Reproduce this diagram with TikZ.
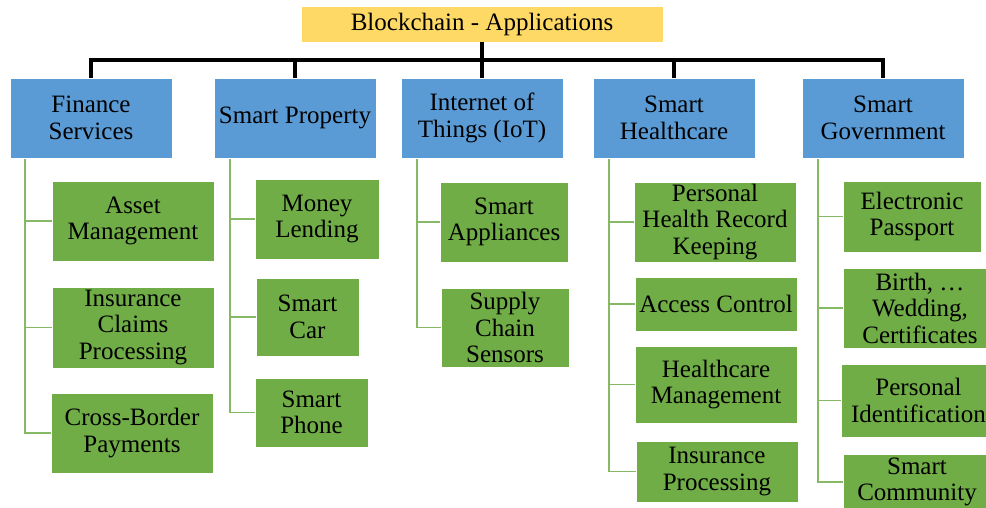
\documentclass[tikz,border=0pt]{standalone}
\usepackage{fontspec}
\setmainfont{Liberation Serif}
\definecolor{rootyellow}{HTML}{FFD966}
\definecolor{catblue}{HTML}{5B9BD5}
\definecolor{leafgreen}{HTML}{70AD47}
\begin{document}
\begin{tikzpicture}[x=1pt, y=-1pt, font=\fontsize{25}{26.5}\selectfont]
    \tikzstyle{root_style} = [rectangle, fill=rootyellow, draw=white, thin, inner sep=0pt, align=center]
    \tikzstyle{cat_style} = [rectangle, fill=catblue, draw=white, thin, inner sep=0pt, align=center, minimum width=162, minimum height=80]
    \tikzstyle{leaf_style} = [rectangle, fill=leafgreen, draw=white, thin, inner sep=0pt, align=center]
    \tikzstyle{tree_style} = [draw=black, line width=3.5pt]
    \tikzstyle{branch_style} = [draw=leafgreen!85!white, line width=1.6pt]
    \useasboundingbox (0,0) rectangle (986,508);

    \node[root_style, minimum width=362, minimum height=36] (root) at (482,24) {Blockchain - Applications};

    \node[cat_style] (fin) at (91,118) {Finance\\Services};
    \node[cat_style] (prop) at (295,118) {Smart Property};
    \node[cat_style] (iot) at (482,118) {Internet of\\Things (IoT)};
    \node[cat_style] (health) at (674,118) {Smart\\Healthcare};
    \node[cat_style] (gov) at (883,118) {Smart\\Government};

    \node[leaf_style, minimum width=162, minimum height=80] (asset) at (133,221) {Asset\\Management};
    \node[leaf_style, minimum width=162, minimum height=81] (claims) at (133,327.5) {Insurance\\Claims\\Processing};
    \node[leaf_style, minimum width=162, minimum height=80] (cross) at (132,433) {Cross-Border\\Payments};

    \node[leaf_style, minimum width=124, minimum height=80] (money) at (317,219) {Money\\Lending};
    \node[leaf_style, minimum width=103, minimum height=78] (car) at (307.5,317) {Smart\\Car};
    \node[leaf_style, minimum width=113, minimum height=69] (phone) at (311.5,412.5) {Smart\\Phone};

    \node[leaf_style, minimum width=128, minimum height=80] (appl) at (504,222) {Smart\\Appliances};
    \node[leaf_style, minimum width=128, minimum height=79] (supply) at (505,327.5) {Supply\\Chain\\Sensors};

    \node[leaf_style, minimum width=162, minimum height=80] (record) at (715,222) {Personal\\Health Record\\Keeping};
    \node[leaf_style, minimum width=162, minimum height=54] (access) at (716,304) {Access Control};
    \node[leaf_style, minimum width=162, minimum height=77] (hcm) at (716,384.5) {Healthcare\\Management};
    \node[leaf_style, minimum width=162, minimum height=61] (insproc) at (717,471.5) {Insurance\\Processing};

    \node[leaf_style, minimum width=138, minimum height=71] (passport) at (912,216.5) {Electronic\\Passport};
    \node[leaf_style, minimum width=154, minimum height=80] (birth) at (920,308) {Birth, \dots\\Wedding,\\Certificates};
    \node[leaf_style, minimum width=155, minimum height=73] (ident) at (918.5,400.5) {Personal\\Identification};
    \node[leaf_style, minimum width=148, minimum height=56] (community) at (917,482) {Smart\\Community};

    % main tree
    \draw[tree_style] (root.south) -- ++(0,18) -| (fin.north);
    \draw[tree_style] (root.south) -- ++(0,18) -| (prop.north);
    \draw[tree_style] (root.south) -- (iot.north);
    \draw[tree_style] (root.south) -- ++(0,18) -| (health.north);
    \draw[tree_style] (root.south) -- ++(0,18) -| (gov.north);

    % branches
    \draw[branch_style] (fin.south west) ++(15,1) |- (asset.west);
    \draw[branch_style] (fin.south west) ++(15,1) |- (claims.west);
    \draw[branch_style] (fin.south west) ++(15,1) |- (cross.west);

    \draw[branch_style] (prop.south west) ++(16,1) |- (money.west);
    \draw[branch_style] (prop.south west) ++(16,1) |- (car.west);
    \draw[branch_style] (prop.south west) ++(16,1) |- (phone.west);

    \draw[branch_style] (iot.south west) ++(16,1) |- (appl.west);
    \draw[branch_style] (iot.south west) ++(16,1) |- (supply.west);

    \draw[branch_style] (health.south west) ++(16,1) |- (record.west);
    \draw[branch_style] (health.south west) ++(16,1) |- (access.west);
    \draw[branch_style] (health.south west) ++(16,1) |- (hcm.west);
    \draw[branch_style] (health.south west) ++(16,1) |- (insproc.west);

    \draw[branch_style] (gov.south west) ++(16,1) |- (passport.west);
    \draw[branch_style] (gov.south west) ++(16,1) |- (birth.west);
    \draw[branch_style] (gov.south west) ++(16,1) |- (ident.west);
    \draw[branch_style] (gov.south west) ++(16,1) |- (community.west);
\end{tikzpicture}
\end{document}
